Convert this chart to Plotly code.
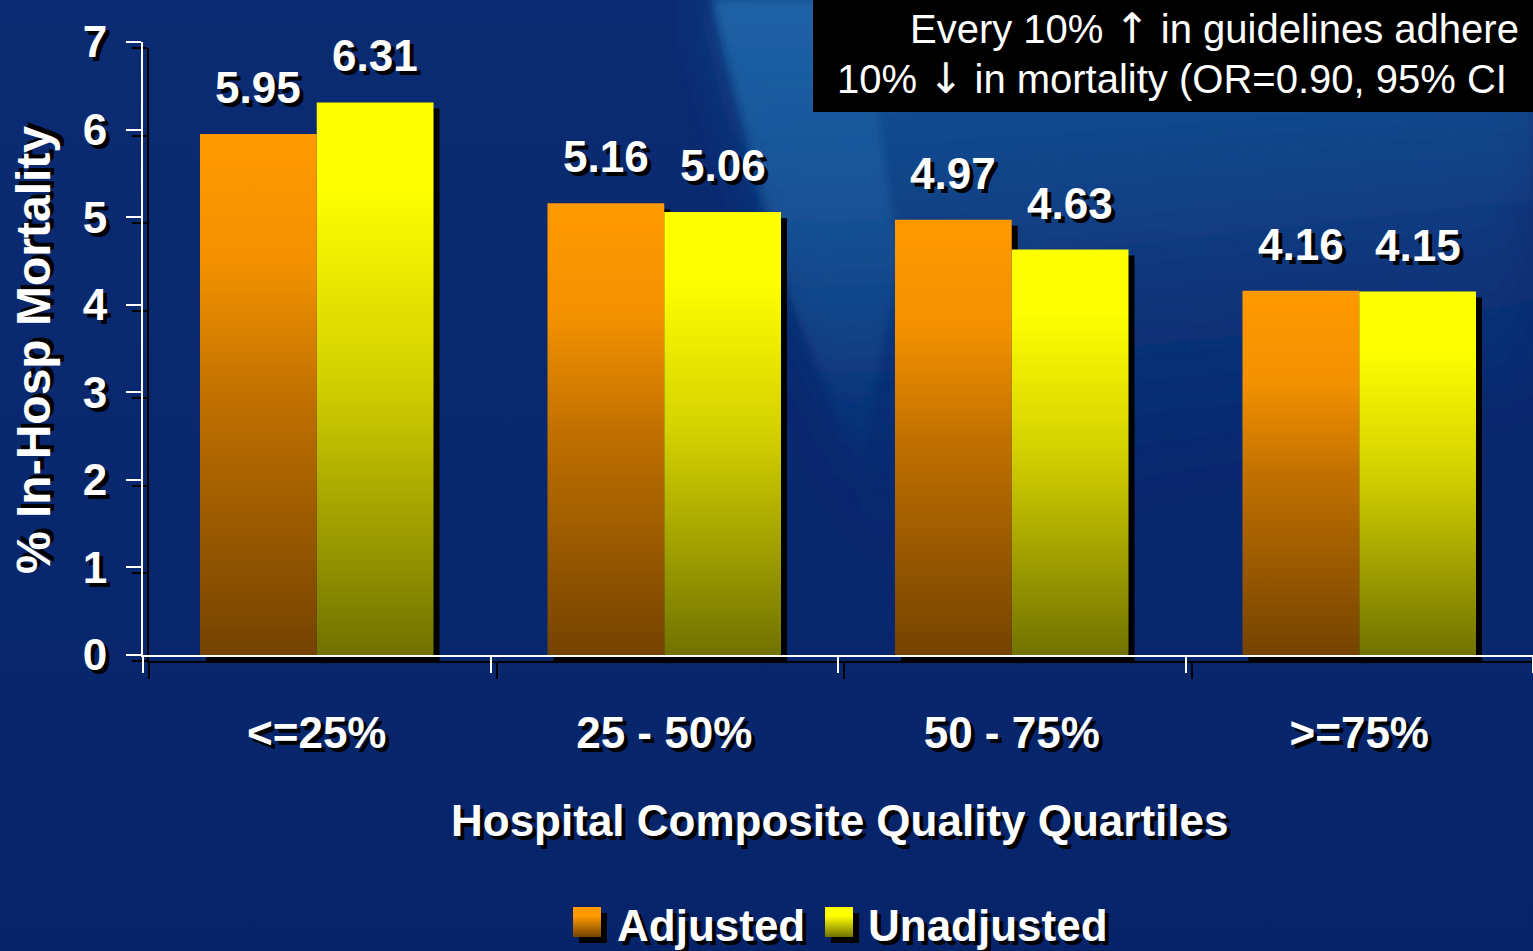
import base64
import plotly.graph_objects as go

# ---------------- data ----------------
categories = ["<=25%", "25 - 50%", "50 - 75%", ">=75%"]
adjusted = [5.95, 5.16, 4.97, 4.16]
unadjusted = [6.31, 5.06, 4.63, 4.15]
series_names = ["Adjusted", "Unadjusted"]
y_tick_values = [0, 1, 2, 3, 4, 5, 6, 7]
y_title = "% In-Hosp Mortality"
x_title = "Hospital Composite Quality Quartiles"
ARROW_STYLE = "font-family:'DejaVu Sans';font-size:42px"
note_line1 = f"Every 10% <span style=\"{ARROW_STYLE}\">\u2191</span> in guidelines adhere"
note_line2 = f"10% <span style=\"{ARROW_STYLE}\">\u2193</span> in mortality (OR=0.90, 95% CI"

# ---------------- layout constants ----------------
W, H = 1533, 951
PX_L, PX_R = 143, 1533          # plot area (pixels)
PX_B, PX_T = 655, 42
SH = 6                           # shadow offset (pixels)
BAR_W = 0.336
X_RANGE = [-0.5, 3.5]
Y_RANGE = [0, 7]
ppu_x = (PX_R - PX_L) / (X_RANGE[1] - X_RANGE[0])

FONT = "Liberation Sans, Arial, sans-serif"
TXT_SHADOW = "4px 4px 0px #000000"

orange_scale = [[0, "#744300"], [0.5, "#c27100"], [0.75, "#f39100"], [1, "#ff9900"]]
yellow_scale = [[0, "#717200"], [0.5, "#d3d000"], [0.85, "#ffff00"], [1, "#ffff00"]]
series_values = [adjusted, unadjusted]
series_scales = [orange_scale, yellow_scale]
series_offsets = [-BAR_W, 0.0]
legend_swatch_colors = [("#ff9900", "#744300"), ("#ffff00", "#717200")]
legend_swatch_x = [573, 825]
legend_text_x = [615, 866]

fig = go.Figure()

# ---------- shadow bars (drawn on a subplot shifted by SH px) ----------
for vals, off in zip(series_values, series_offsets):
    fig.add_trace(go.Bar(
        x=list(range(len(categories))), y=vals, width=BAR_W, offset=off,
        marker=dict(color="#000000", line=dict(width=0)),
        xaxis="x", yaxis="y", showlegend=False, hoverinfo="skip",
    ))

# ---------- main bars with vertical gradient ----------
for name, vals, scale, off in zip(series_names, series_values, series_scales, series_offsets):
    for i, v in enumerate(vals):
        x0, x1 = i + off, i + off + BAR_W
        fig.add_trace(go.Scatter(
            x=[x0, x0, x1, x1, x0], y=[0, v, v, 0, 0],
            mode="lines", fill="toself",
            fillgradient=dict(type="vertical", colorscale=scale),
            line=dict(width=0),
            name=name, legendgroup=name, showlegend=False,
            xaxis="x2", yaxis="y2",
            hoveron="fills", hoverinfo="name+text", text=f"{categories[i]}: {v}",
        ))

# ---------- value labels ----------
annotations = []
for vals, off in zip(series_values, series_offsets):
    for i, v in enumerate(vals):
        annotations.append(dict(
            x=i + off + BAR_W / 2, y=v, xref="x2", yref="y2",
            text=f"{v:.2f}", showarrow=False, yanchor="bottom", yshift=20,
            font=dict(family=FONT, size=44, color="white", weight="bold", shadow=TXT_SHADOW),
        ))

# axis titles
annotations.append(dict(
    x=34 / W, y=1 - 350 / H, xref="paper", yref="paper", text=y_title, textangle=-90,
    showarrow=False, xanchor="center", yanchor="middle",
    font=dict(family=FONT, size=48, color="white", weight="bold", shadow=TXT_SHADOW),
))
annotations.append(dict(
    x=839 / W, y=1 - 820 / H, xref="paper", yref="paper", text=x_title,
    showarrow=False, xanchor="center", yanchor="middle",
    font=dict(family=FONT, size=44, color="white", weight="bold", shadow=TXT_SHADOW),
))
# note box text
annotations.append(dict(
    x=908 / W, y=1 - 28 / H, xref="paper", yref="paper", text=note_line1,
    showarrow=False, xanchor="left", yanchor="middle",
    font=dict(family=FONT, size=40, color="white"),
))
annotations.append(dict(
    x=835 / W, y=1 - 78 / H, xref="paper", yref="paper", text=note_line2,
    showarrow=False, xanchor="left", yanchor="middle",
    font=dict(family=FONT, size=40, color="white"),
))
# legend labels
for name, tx in zip(series_names, legend_text_x):
    annotations.append(dict(
        x=tx / W, y=1 - 925 / H, xref="paper", yref="paper", text=name,
        showarrow=False, xanchor="left", yanchor="middle",
        font=dict(family=FONT, size=44, color="white", weight="bold", shadow=TXT_SHADOW),
    ))

# ---------- background image (svg gradient) ----------
svg = f'''<svg xmlns="http://www.w3.org/2000/svg" width="{W}" height="{H}" viewBox="0 0 {W} {H}">
<defs>
<linearGradient id="b" x1="0" y1="0" x2="0" y2="1">
<stop offset="0" stop-color="#0b2b72"/><stop offset="1" stop-color="#07246a"/></linearGradient>
<linearGradient id="s" x1="0" y1="0" x2="0.15" y2="1">
<stop offset="0" stop-color="#17589c" stop-opacity="1"/>
<stop offset="0.55" stop-color="#114286" stop-opacity="0.6"/>
<stop offset="1" stop-color="#0b2b72" stop-opacity="0"/></linearGradient>
<linearGradient id="s2" x1="0" y1="0" x2="0" y2="1">
<stop offset="0" stop-color="#1d62a6" stop-opacity="0.9"/>
<stop offset="0.7" stop-color="#1a5a9e" stop-opacity="0.35"/>
<stop offset="1" stop-color="#1a5a9e" stop-opacity="0"/></linearGradient>
<filter id="f" x="-20%" y="-20%" width="140%" height="140%"><feGaussianBlur stdDeviation="5"/></filter>
<filter id="f2" x="-20%" y="-20%" width="140%" height="140%"><feGaussianBlur stdDeviation="25"/></filter>
</defs>
<rect width="{W}" height="{H}" fill="url(#b)"/>
<polygon points="712,0 1533,0 1533,380 1150,470 880,560 800,330" fill="url(#s)" filter="url(#f2)"/>
<polygon points="714,0 1533,0 1533,200 1000,260 850,420 770,250" fill="url(#s)" filter="url(#f)"/>
<polygon points="714,0 860,0 900,260 860,470 790,300" fill="url(#s2)" filter="url(#f)"/>
</svg>'''
bg_uri = "data:image/svg+xml;base64," + base64.b64encode(svg.encode()).decode()

images = [dict(source=bg_uri, xref="paper", yref="paper", x=0, y=1, sizex=1, sizey=1,
               sizing="stretch", layer="below", xanchor="left", yanchor="top")]

# legend swatches (gradient squares with drop shadow)
for (c_top, c_bot), sx in zip(legend_swatch_colors, legend_swatch_x):
    sw = f'''<svg xmlns="http://www.w3.org/2000/svg" width="35" height="37" viewBox="0 0 35 37">
<defs><linearGradient id="g" x1="0" y1="0" x2="0" y2="1">
<stop offset="0" stop-color="{c_top}"/><stop offset="0.3" stop-color="{c_top}"/><stop offset="1" stop-color="{c_bot}"/></linearGradient></defs>
<rect x="6" y="6" width="28" height="30" fill="#000"/>
<rect x="0" y="0" width="28" height="30" fill="url(#g)"/></svg>'''
    images.append(dict(source="data:image/svg+xml;base64," + base64.b64encode(sw.encode()).decode(),
                       xref="paper", yref="paper", x=sx / W, y=1 - 907 / H, sizex=35 / W, sizey=37 / H,
                       sizing="stretch", layer="above", xanchor="left", yanchor="top"))

# ---------- axes ----------
xd_main = [PX_L / W, PX_R / W]
yd_main = [1 - PX_B / H, 1 - PX_T / H]
xd_sh = [(PX_L + SH) / W, 1.0]
x_range_sh = [X_RANGE[0], X_RANGE[0] + (W - PX_L - SH) / ppu_x]
yd_sh = [1 - (PX_B + SH) / H, 1 - (PX_T + SH) / H]
boundaries = [k - 0.5 for k in range(len(categories) + 1)]


def x_axis(domain, rng, color, labels, anchor):
    return dict(
        domain=domain, range=rng, anchor=anchor, showgrid=False, zeroline=False,
        showline=True, linecolor=color, linewidth=2,
        tickmode="array", tickvals=list(range(len(categories))),
        ticktext=categories if labels else [""] * len(categories),
        ticks="", showticklabels=labels, ticklabelstandoff=38,
        tickfont=dict(family=FONT, size=44, color="white", weight="bold", shadow=TXT_SHADOW),
        minor=dict(tickmode="array", tickvals=boundaries, ticks="outside", ticklen=16,
                   tickwidth=2, tickcolor=color, showgrid=False),
        automargin=False, fixedrange=True,
    )


def y_axis(domain, color, labels, anchor):
    return dict(
        domain=domain, range=Y_RANGE, anchor=anchor, showgrid=False, zeroline=False,
        showline=True, linecolor=color, linewidth=2,
        tickmode="array", tickvals=y_tick_values, ticks="outside", ticklen=15,
        tickwidth=2, tickcolor=color, showticklabels=labels, ticklabelstandoff=10,
        tickfont=dict(family=FONT, size=44, color="white", weight="bold", shadow=TXT_SHADOW),
        automargin=False, fixedrange=True,
    )


fig.update_layout(
    width=W, height=H,
    margin=dict(l=0, r=0, t=0, b=0, pad=0),
    paper_bgcolor="#0a2a70", plot_bgcolor="rgba(0,0,0,0)",
    barmode="overlay",
    xaxis=x_axis(xd_sh, x_range_sh, "#000000", False, "y"),
    yaxis=y_axis(yd_sh, "#000000", False, "x"),
    xaxis2=x_axis(xd_main, X_RANGE, "#ffffff", True, "y2"),
    yaxis2=y_axis(yd_main, "#ffffff", True, "x2"),
    annotations=annotations,
    shapes=[dict(type="rect", xref="paper", yref="paper", x0=813 / W, x1=1.0,
                 y0=1 - 112 / H, y1=1.0, fillcolor="#000000", line=dict(width=0), layer="above")],
    images=images,
    showlegend=False,
)

fig.write_html("out.html")
